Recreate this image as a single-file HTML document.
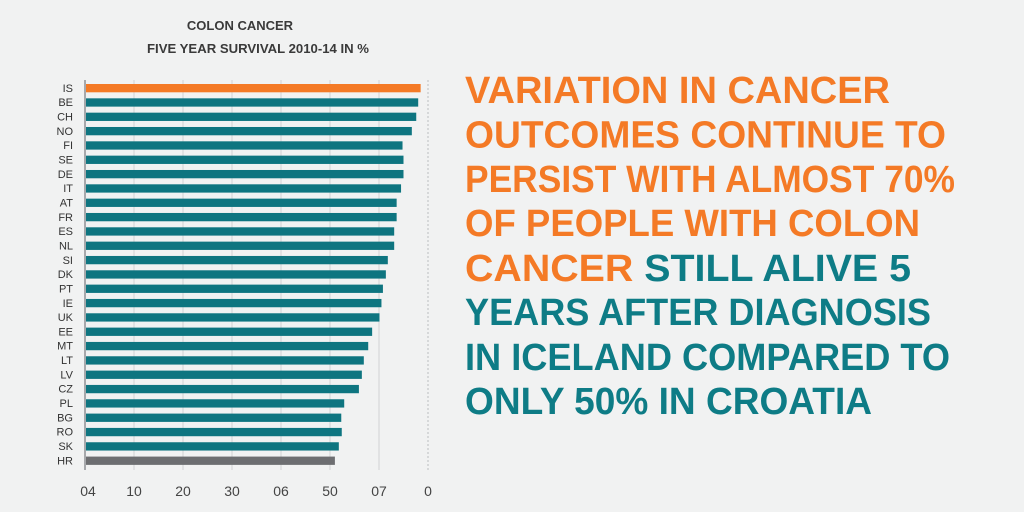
<!DOCTYPE html>
<html><head><meta charset="utf-8"><style>
html,body{margin:0;padding:0;background:#f1f2f2;}
svg{display:block;font-family:"Liberation Sans",sans-serif;}
</style></head><body>
<svg id="c" width="1024" height="512" viewBox="0 0 1024 512">
<rect width="1024" height="512" fill="#f1f2f2"/>
<text x="240" y="30" text-anchor="middle" font-size="13" font-weight="bold" fill="#3a3a3a">COLON CANCER</text>
<text x="258" y="53" text-anchor="middle" font-size="13" font-weight="bold" fill="#3a3a3a" textLength="222" lengthAdjust="spacingAndGlyphs">FIVE YEAR SURVIVAL 2010-14 IN %</text>
<g id="grid"></g>
<g id="bars"></g>
<g id="ylab"></g>
<g id="xlab"></g>
<line x1="85" y1="80" x2="85" y2="470" stroke="#a7a9ac" stroke-width="2"/>
<g font-weight="bold" font-size="38">
<text x="465" y="103" fill="#f47a26" textLength="425" lengthAdjust="spacingAndGlyphs">VARIATION IN CANCER</text>
<text x="465" y="147.5" fill="#f47a26" textLength="481" lengthAdjust="spacingAndGlyphs">OUTCOMES CONTINUE TO</text>
<text x="465" y="192" fill="#f47a26" textLength="490" lengthAdjust="spacingAndGlyphs">PERSIST WITH ALMOST 70%</text>
<text x="465" y="236" fill="#f47a26" textLength="455" lengthAdjust="spacingAndGlyphs">OF PEOPLE WITH COLON</text>
<text x="465" y="281" textLength="446" lengthAdjust="spacingAndGlyphs"><tspan fill="#f47a26">CANCER</tspan><tspan fill="#0e7c86"> STILL ALIVE 5</tspan></text>
<text x="465" y="325" fill="#0e7c86" textLength="466" lengthAdjust="spacingAndGlyphs">YEARS AFTER DIAGNOSIS</text>
<text x="465" y="370" fill="#0e7c86" textLength="485" lengthAdjust="spacingAndGlyphs">IN ICELAND COMPARED TO</text>
<text x="465" y="414" fill="#0e7c86" textLength="407" lengthAdjust="spacingAndGlyphs">ONLY 50% IN CROATIA</text>
</g>
</svg>
<script>
const countries=["IS","BE","CH","NO","FI","SE","DE","IT","AT","FR","ES","NL","SI","DK","PT","IE","UK","EE","MT","LT","LV","CZ","PL","BG","RO","SK","HR"];
const survival=[68.5,68.0,67.6,66.7,64.8,65.0,65.0,64.5,63.6,63.6,63.1,63.1,61.8,61.4,60.8,60.5,60.1,58.6,57.8,56.9,56.5,55.9,52.9,52.3,52.4,51.8,51.0];
const tickValues=[0,10,20,30,40,50,60,70];
const tickLabels=["04","10","20","30","06","50","07","0"];
const NS="http://www.w3.org/2000/svg";
const x0=85,unit=4.9,top0=84,pitch=14.33,bh=8.3;
function xs(v){return x0+v*unit;}
function ys(i){return top0+i*pitch;}
function mk(t,a,p){const e=document.createElementNS(NS,t);for(const k in a)e.setAttribute(k,a[k]);p.appendChild(e);return e;}
const g=document.getElementById('grid'),b=document.getElementById('bars'),yl=document.getElementById('ylab'),xl=document.getElementById('xlab');
tickValues.forEach((v,i)=>{
 if(v>0){const l=mk('line',{x1:xs(v),x2:xs(v),y1:80,y2:470,stroke:v===70?'#bcbec0':'#d1d3d4','stroke-width':1,'stroke-dasharray':v===70?'2,2':'none'},g);
 
 }
 const t=mk('text',{x:xs(v)+(i===0?3:0),y:496,'text-anchor':'middle','font-size':14,fill:'#444'},xl);
 t.textContent=tickLabels[i];
 
 
});
countries.forEach((c,i)=>{
 const col=c==="IS"?'#f47a26':(c==="HR"?'#6d6e71':'#0e7580');
 const r=mk('rect',{x:x0+1,y:ys(i),width:xs(survival[i])-x0-1,height:bh,fill:col},b);
 
 
 const t=mk('text',{x:73,y:ys(i)+bh-0.5,'text-anchor':'end','font-size':11,fill:'#333'},yl);
 t.textContent=c;
 
 
});
</script>
</body></html>
